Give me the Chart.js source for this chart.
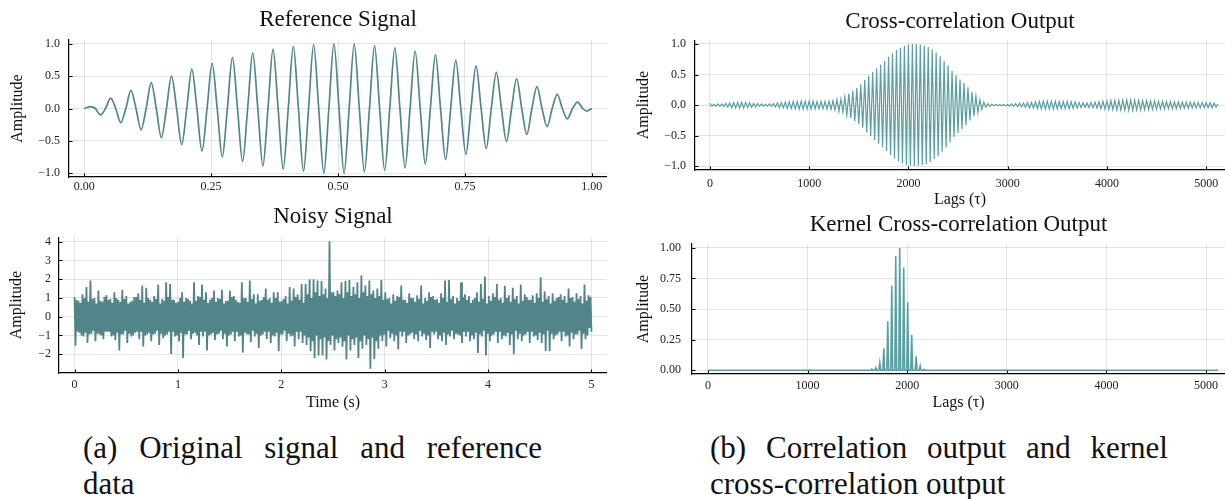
<!DOCTYPE html>
<html>
<head>
<meta charset="utf-8">
<script src="https://cdn.jsdelivr.net/npm/chart.js@4.4.0/dist/chart.umd.min.js"></script>
<style>
  body { margin: 0; width: 1225px; height: 499px; background: #fff; position: relative; overflow: hidden; font-family: "Liberation Serif", serif; }
  canvas { position: absolute; }
  .cap { position: absolute; font-size: 31px; line-height: 36px; color: #111; white-space: nowrap; }
  .just { white-space: normal; text-align: justify; text-align-last: justify; }
</style>
</head>
<body>
<canvas id="refChart" width="607" height="197" style="left:0px;top:0px"></canvas>
<canvas id="noisyChart" width="607" height="220" style="left:0px;top:195px"></canvas>
<canvas id="xcorrChart" width="605" height="211" style="left:620px;top:0px"></canvas>
<canvas id="kernelChart" width="605" height="214" style="left:620px;top:200px"></canvas>
<div class="cap just" style="left:83px;top:430px;width:459px">(a) Original signal and reference</div>
<div class="cap" style="left:83px;top:466px">data</div>
<div class="cap just" style="left:710px;top:430px;width:458px">(b) Correlation output and kernel</div>
<div class="cap" style="left:710px;top:466px">cross-correlation output</div>

<script>
// Reference signal: extrema and zero crossings
const refTime = [0, 0.012, 0.022, 0.032, 0.042, 0.052, 0.062, 0.072, 0.082, 0.092, 0.102, 0.112, 0.122, 0.132, 0.142, 0.152, 0.162, 0.172, 0.182, 0.192,
  0.202, 0.212, 0.222, 0.232, 0.242, 0.252, 0.262, 0.272, 0.282, 0.292, 0.302, 0.312, 0.322, 0.332, 0.342, 0.352, 0.362, 0.372, 0.382, 0.392,
  0.402, 0.412, 0.422, 0.432, 0.442, 0.452, 0.462, 0.472, 0.482, 0.492, 0.502, 0.512, 0.522, 0.532, 0.542, 0.552, 0.562, 0.572, 0.582, 0.592,
  0.602, 0.612, 0.622, 0.632, 0.642, 0.652, 0.662, 0.672, 0.682, 0.692, 0.702, 0.712, 0.722, 0.732, 0.742, 0.752, 0.762, 0.772, 0.782, 0.792,
  0.802, 0.812, 0.822, 0.832, 0.842, 0.852, 0.862, 0.872, 0.882, 0.892, 0.902, 0.912, 0.922, 0.932, 0.942, 0.952, 0.962, 0.972, 0.982, 0.990, 1.0];
const refAmp = [0,
  0.03, 0, -0.10, 0,  0.16, 0, -0.22, 0,  0.28, 0, -0.33, 0,  0.40, 0, -0.45, 0,
  0.50, 0, -0.56, 0,  0.61, 0, -0.66, 0,  0.70, 0, -0.75, 0,  0.79, 0, -0.82, 0,
  0.86, 0, -0.89, 0,  0.92, 0, -0.94, 0,  0.96, 0, -0.97, 0,  0.99, 0, -1.00, 0,
  1.00, 0, -1.00, 0,  1.00, 0, -0.98, 0,  0.97, 0, -0.96, 0,  0.94, 0, -0.92, 0,
  0.89, 0, -0.86, 0,  0.83, 0, -0.79, 0,  0.75, 0, -0.71, 0,  0.66, 0, -0.62, 0,
  0.56, 0, -0.51, 0,  0.46, 0, -0.40, 0,  0.34, 0, -0.28, 0,  0.22, 0, -0.16, 0,
  0.10, 0, -0.04, 0];

// Noisy signal samples over 5 s (read as upper/lower excursions of the band)
const noisyDuration = 5;
const noisyVals = [
  1.05, -1.54, 0.9, -0.8, 0.85, -0.85, 0.75, -1.0, 1.2, -1.05, 1.0, -0.85, 1.58, -1.4, 0.8, -0.95, 1.93, -0.9, 0.95, -0.75,
  1.0, -1.3, 0.7, -0.9, 1.4, -0.95, 0.85, -1.0, 0.8, -1.2, 1.05, -0.8, 1.15, -0.8, 0.9, -0.8, 0.95, -1.05, 0.75, -1.0,
  1.3, -1.25, 1.0, -0.85, 0.9, -1.8, 0.8, -0.95, 1.44, -0.95, 0.95, -0.75, 1.1, -1.4, 0.7, -0.9, 0.8, -1.05, 0.85, -1.0,
  1.05, -0.85, 1.05, -0.8, 1.25, -1.2, 0.9, -0.8, 1.67, -1.58, 0.75, -1.0, 1.54, -0.95, 1.0, -0.85, 0.9, -1.3, 0.8, -0.95,
  1.1, -0.9, 0.95, -0.75, 1.72, -1.5, 0.7, -0.9, 0.95, -1.15, 0.85, -1.0, 1.84, -0.95, 1.05, -0.8, 1.75, -1.98, 0.9, -0.8,
  0.9, -1.05, 0.75, -1.0, 0.8, -1.3, 1.0, -0.85, 1.3, -2.2, 0.8, -0.95, 1.0, -0.95, 0.95, -0.75, 0.85, -1.2, 0.7, -0.9,
  1.84, -0.85, 0.85, -1.0, 1.1, -1.5, 1.05, -0.8, 1.72, -1.05, 0.9, -0.8, 1.3, -1.8, 0.75, -1.0, 0.9, -0.95, 1.0, -0.85,
  1.4, -1.25, 0.8, -0.95, 1.0, -0.9, 0.95, -0.75, 1.44, -1.2, 0.7, -0.9, 0.85, -1.58, 0.85, -1.0, 1.4, -0.95, 1.05, -0.8,
  1.1, -1.3, 0.9, -0.8, 0.8, -1.05, 0.75, -1.0, 1.84, -1.9, 1.0, -0.85, 1.0, -0.95, 0.8, -0.95, 1.93, -1.35, 0.95, -0.75,
  1.2, -1.05, 0.7, -0.9, 1.2, -1.67, 0.85, -1.0, 0.9, -0.95, 1.05, -0.8, 1.5, -1.2, 0.9, -0.8, 1.0, -1.4, 0.75, -1.0,
  1.3, -1.05, 1.0, -0.85, 1.3, -1.84, 0.8, -0.95, 0.85, -0.95, 0.95, -0.75, 1.1, -1.3, 0.7, -0.9, 1.58, -1.05, 0.85, -1.0,
  1.5, -1.58, 1.05, -0.8, 1.2, -1.2, 0.9, -0.8, 1.75, -1.4, 0.75, -1.0, 1.75, -1.5, 1.2, -1.1, 2.0, -1.84, 1.0, -1.3,
  2.0, -2.2, 1.3, -1.0, 1.93, -2.07, 1.1, -1.2, 1.9, -2.07, 1.2, -1.1, 1.5, -2.28, 1.0, -1.3, 4.02, -1.5, 1.3, -1.0,
  1.3, -1.8, 1.1, -1.2, 1.4, -1.4, 1.2, -1.1, 1.84, -1.6, 1.0, -1.3, 1.9, -2.28, 1.3, -1.0, 1.96, -1.8, 1.1, -1.2,
  1.6, -1.5, 1.2, -1.1, 1.84, -2.2, 1.0, -1.3, 2.2, -1.7, 1.3, -1.0, 1.67, -1.5, 1.1, -1.2, 1.93, -2.77, 1.2, -1.1,
  1.4, -2.25, 1.0, -1.3, 1.5, -1.7, 1.1, -1.0, 1.96, -1.3, 0.9, -0.95, 1.3, -1.58, 0.95, -0.75, 1.0, -1.15, 0.7, -0.9,
  1.2, -1.3, 0.85, -1.0, 1.1, -1.75, 1.05, -0.8, 1.67, -1.05, 0.9, -0.8, 0.9, -1.4, 0.75, -1.0, 1.25, -0.95, 1.0, -0.85,
  1.0, -1.2, 0.8, -0.95, 1.15, -1.3, 0.95, -0.75, 1.67, -1.05, 0.7, -0.9, 1.0, -1.25, 0.85, -1.0, 1.3, -1.67, 1.05, -0.8,
  1.1, -0.95, 0.9, -0.8, 0.95, -1.2, 0.75, -1.0, 1.25, -1.3, 1.0, -0.85, 1.93, -1.5, 0.8, -0.95, 1.96, -1.05, 0.95, -0.75,
  1.1, -1.2, 0.7, -0.9, 1.0, -0.95, 0.85, -1.0, 1.84, -1.4, 1.05, -0.8, 1.2, -1.05, 0.9, -0.8, 1.1, -1.3, 0.75, -1.0,
  0.9, -1.2, 1.0, -0.85, 1.3, -1.93, 0.8, -0.95, 1.75, -1.05, 0.95, -0.75, 2.14, -2.07, 0.7, -0.9, 1.1, -1.3, 0.85, -1.0,
  1.25, -0.95, 1.05, -0.8, 1.75, -1.4, 0.9, -0.8, 1.0, -1.2, 0.75, -1.0, 1.65, -1.05, 1.0, -0.85, 1.15, -1.5, 0.8, -0.95,
  1.55, -2.0, 0.95, -0.75, 1.1, -1.2, 0.7, -0.9, 1.72, -1.3, 0.85, -1.0, 1.2, -0.95, 1.05, -0.8, 0.9, -1.4, 0.9, -0.8,
  1.15, -1.05, 0.75, -1.0, 1.25, -1.25, 1.0, -0.85, 2.1, -1.4, 0.8, -0.95, 1.35, -1.84, 0.95, -0.75, 1.1, -1.84, 0.7, -0.9,
  1.25, -1.2, 0.85, -1.0, 1.0, -0.95, 1.05, -0.8, 1.2, -1.3, 0.9, -0.8, 1.1, -1.05, 0.75, -1.0, 1.5, -1.58, 1.0, -0.85,
  1.05, -1.2, 0.8, -0.95, 1.25, -0.95, 0.95, -0.75, 1.1, -1.72, 0.7, -0.9, 1.72, -1.2, 0.85, -1.0, 1.14, -0.6, 1.05, -0.8];

// Cross-correlation: one value per half period (20 lags)
const xcorrLagStep = 20;
const xcorrVals = [0.03, -0.02, 0.015, -0.015, 0.02, -0.02, 0.02, -0.025, 0.03, -0.03,
  0.035, -0.04, 0.04, -0.045, 0.045, -0.05, 0.05, -0.05, 0.045, -0.04,
  0.04, -0.035, 0.03, -0.03, 0.025, -0.02, 0.02, -0.015, 0.015, -0.015,
  0.02, -0.02, 0.025, -0.03, 0.035, -0.04, 0.04, -0.045, 0.05, -0.05,
  0.055, -0.055, 0.06, -0.06, 0.06, -0.065, 0.065, -0.065, 0.065, -0.065,
  0.065, -0.065, 0.065, -0.06, 0.06, -0.06, 0.06, -0.06, 0.06, -0.065,
  0.065, -0.07, 0.07, -0.08, 0.09, -0.10, 0.10, -0.11, 0.13, -0.16,
  0.19, -0.21, 0.24, -0.26, 0.28, -0.31, 0.34, -0.37, 0.41, -0.45,
  0.48, -0.51, 0.54, -0.57, 0.60, -0.63, 0.66, -0.69, 0.72, -0.75,
  0.79, -0.82, 0.85, -0.87, 0.90, -0.92, 0.94, -0.95, 0.97, -0.98,
  0.99, -0.99, 1.00, -1.00, 1.00, -0.99, 0.99, -0.98, 0.97, -0.96,
  0.95, -0.93, 0.91, -0.88, 0.86, -0.83, 0.80, -0.76, 0.72, -0.69,
  0.65, -0.61, 0.56, -0.52, 0.49, -0.46, 0.42, -0.39, 0.36, -0.33,
  0.29, -0.25, 0.22, -0.18, 0.15, -0.12, 0.09, -0.07, 0.05, -0.035,
  0.025, -0.02, 0.015, -0.01, 0.01, -0.008, 0.008, -0.01, 0.01, -0.01,
  0.012, -0.015, 0.02, -0.02, 0.025, -0.025, 0.03, -0.03, 0.035, -0.035,
  0.04, -0.045, 0.045, -0.05, 0.05, -0.055, 0.06, -0.06, 0.065, -0.065,
  0.065, -0.065, 0.065, -0.065, 0.065, -0.06, 0.06, -0.06, 0.06, -0.06,
  0.06, -0.06, 0.055, -0.055, 0.05, -0.05, 0.045, -0.04, 0.04, -0.035,
  0.035, -0.04, 0.045, -0.045, 0.05, -0.05, 0.055, -0.06, 0.065, -0.065,
  0.07, -0.07, 0.075, -0.075, 0.075, -0.08, 0.08, -0.08, 0.08, -0.085,
  0.085, -0.085, 0.085, -0.085, 0.08, -0.08, 0.08, -0.08, 0.075, -0.075,
  0.075, -0.07, 0.07, -0.07, 0.07, -0.065, 0.065, -0.065, 0.065, -0.06,
  0.06, -0.06, 0.06, -0.06, 0.055, -0.055, 0.055, -0.055, 0.05, -0.05,
  0.05, -0.05, 0.05, -0.05, 0.045, -0.045, 0.045, -0.045, 0.045, -0.04,
  0.04, -0.04, 0.04, -0.04, 0.035, -0.03, 0.02];

// Kernel cross-correlation: spikes near lag 1900
const kernelLags = [1645, 1685, 1725, 1765, 1805, 1845, 1885, 1925, 1965, 2005, 2045, 2090, 2130, 2170];
const kernelPeaks = [0.01, 0.02, 0.06, 0.18, 0.40, 0.69, 0.93, 1.0, 0.84, 0.555, 0.29, 0.115, 0.035, 0.008];
const kernelEnd = 5120;

// tick labels
const refXTicks = [0, 0.25, 0.5, 0.75, 1];
const refYTicks = [-1, -0.5, 0, 0.5, 1];
const noisyXTicks = [0, 1, 2, 3, 4, 5];
const noisyYTicks = [-2, -1, 0, 1, 2, 3, 4];
const lagTicks = [0, 1000, 2000, 3000, 4000, 5000];
const xcorrYTicks = [-1, -0.5, 0, 0.5, 1];
const kernelYTicks = [0, 0.25, 0.5, 0.75, 1];

const serif = "'Liberation Serif', 'Times New Roman', serif";
const neg = s => s.replace('-', '\u2212');

// small inward tick marks on the two axis lines
const innerTicks = {
  id: "innerTicks",
  afterDraw(chart) {
    const { ctx, chartArea: a, scales: { x, y } } = chart;
    ctx.save();
    ctx.strokeStyle = "#000";
    ctx.lineWidth = 1;
    ctx.beginPath();
    x.ticks.forEach(t => {
      const px = Math.round(x.getPixelForValue(t.value)) + 0.5;
      ctx.moveTo(px, a.bottom);
      ctx.lineTo(px, a.bottom - 3.5);
    });
    y.ticks.forEach(t => {
      const py = Math.round(y.getPixelForValue(t.value)) + 0.5;
      ctx.moveTo(a.left, py);
      ctx.lineTo(a.left + 3.5, py);
    });
    ctx.stroke();
    ctx.restore();
  }
};

function makeChart(id, c) {
  return new Chart(document.getElementById(id), {
    type: "line",
    data: {
      datasets: [{
        data: c.points,
        borderColor: c.color,
        borderWidth: c.width,
        pointRadius: 0,
        fill: false,
        tension: 0,
        cubicInterpolationMode: c.smooth ? "monotone" : "default"
      }]
    },
    plugins: [innerTicks],
    options: {
      responsive: false,
      animation: false,
      devicePixelRatio: 1,
      layout: { padding: 0 },
      plugins: {
        legend: { display: false },
        tooltip: { enabled: false },
        title: {
          display: true, text: c.title, fullSize: false, color: "#111",
          font: { family: serif, size: 23, weight: "normal" },
          padding: c.titlePad
        }
      },
      scales: {
        x: {
          type: "linear", min: c.xMin, max: c.xMax,
          afterBuildTicks: s => { s.ticks = c.xTicks.map(v => ({ value: v })); },
          afterFit: s => { s.height = c.xHeight; },
          ticks: { font: { family: serif, size: 12 }, color: "#222", padding: c.xPad, maxRotation: 0, autoSkip: false, callback: c.xFmt },
          grid: { color: "rgba(0,0,0,0.1)", drawTicks: false },
          border: { color: "#000", width: 1.3 },
          title: { display: !!c.xTitle, text: c.xTitle, color: "#111", font: { family: serif, size: 16 }, padding: { top: 0, bottom: c.xTitlePad } }
        },
        y: {
          type: "linear", min: c.yMin, max: c.yMax,
          afterBuildTicks: s => { s.ticks = c.yTicks.map(v => ({ value: v })); },
          afterFit: s => { s.width = c.yWidth; },
          ticks: { font: { family: serif, size: 12 }, color: "#222", padding: c.yPad, autoSkip: false, callback: c.yFmt },
          grid: { color: "rgba(0,0,0,0.1)", drawTicks: false },
          border: { color: "#000", width: 1.2 },
          title: { display: true, text: "Amplitude", color: "#111", font: { family: serif, size: 16 }, padding: { top: c.yTitlePad, bottom: 0 } }
        }
      }
    }
  });
}

// build point lists
const refPoints = refTime.map((t, i) => ({ x: t, y: refAmp[i] }));

const noisyStep = noisyDuration / (noisyVals.length - 1);
const noisyPoints = noisyVals.map((v, i) => ({ x: i * noisyStep, y: v }));

const xcorrPoints = xcorrVals.map((v, i) => ({ x: i * xcorrLagStep, y: v }));

const kernelPoints = [{ x: 0, y: 0 }];
kernelLags.forEach((lag, i) => {
  kernelPoints.push({ x: lag - 9, y: 0 }, { x: lag, y: kernelPeaks[i] }, { x: lag + 9, y: 0 });
});
kernelPoints.push({ x: kernelEnd, y: 0 });

makeChart("refChart", {
  title: "Reference Signal", titlePad: { top: 6, bottom: 6.4 },
  points: refPoints, color: "#4f878b", width: 1.7, smooth: true,
  xMin: -0.03, xMax: 1.03, xTicks: refXTicks, xFmt: v => v.toFixed(2), xHeight: 20, xPad: 2.5, xTitle: "",
  yMin: -1.06, yMax: 1.06, yTicks: refYTicks, yFmt: v => neg(v.toFixed(1)), yWidth: 69, yPad: 9, yTitlePad: 8
});

makeChart("noisyChart", {
  title: "Noisy Signal", titlePad: { top: 8.2, bottom: 6.4 },
  points: noisyPoints, color: "#528589", width: 1.8,
  xMin: -0.15, xMax: 5.15, xTicks: noisyXTicks, xFmt: v => String(v), xHeight: 42, xPad: 4.8, xTitle: "Time (s)", xTitlePad: 2.4,
  yMin: -3.0, yMax: 4.24, yTicks: noisyYTicks, yFmt: v => neg(String(v)), yWidth: 59, yPad: 8, yTitlePad: 7.5
});

makeChart("xcorrChart", {
  title: "Cross-correlation Output", titlePad: { top: 8.2, bottom: 4.5 },
  points: xcorrPoints, color: "#5a9fa1", width: 1.2,
  xMin: -150, xMax: 5190, xTicks: lagTicks, xFmt: v => String(v), xHeight: 41, xPad: 6.2, xTitle: "Lags (\u03c4)", xTitlePad: 2.1,
  yMin: -1.06, yMax: 1.06, yTicks: xcorrYTicks, yFmt: v => neg(v.toFixed(1)), yWidth: 75, yPad: 9, yTitlePad: 14.4
});

makeChart("kernelChart", {
  title: "Kernel Cross-correlation Output", titlePad: { top: 11.2, bottom: 5.3 },
  points: kernelPoints, color: "#5a9fa1", width: 1.6,
  xMin: -160, xMax: 5190, xTicks: lagTicks, xFmt: v => String(v), xHeight: 40, xPad: 5.1, xTitle: "Lags (\u03c4)", xTitlePad: 2.1,
  yMin: -0.03, yMax: 1.03, yTicks: kernelYTicks, yFmt: v => v.toFixed(2), yWidth: 72, yPad: 11, yTitlePad: 14.4
});
</script>
</body>
</html>
